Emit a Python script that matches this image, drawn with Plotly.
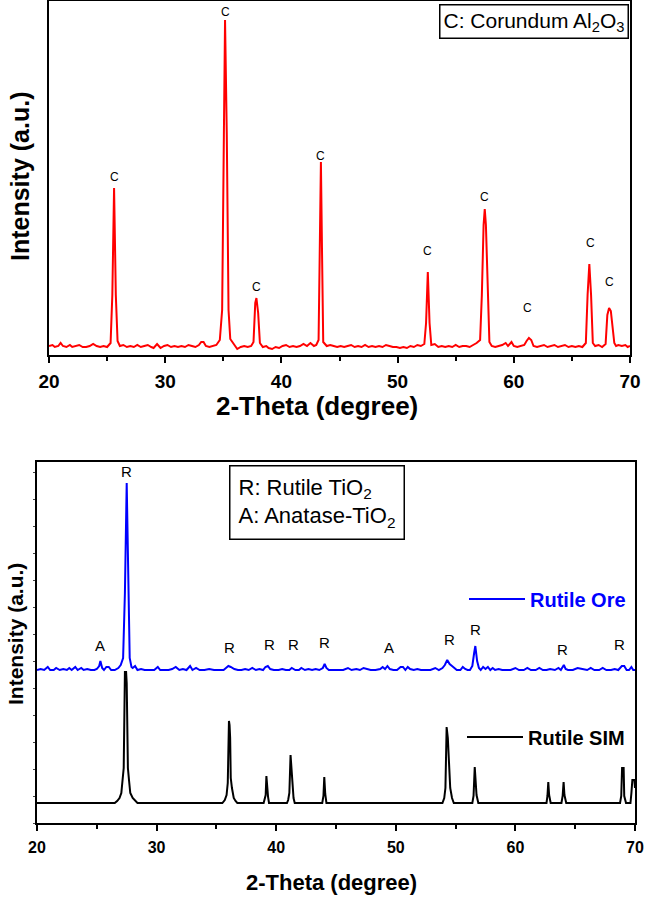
import plotly.graph_objects as go

W, H = 646, 897
OFF = 0  # page body margin is removed by the post script below

# ---------------- Top panel: Corundum Al2O3 (red) ----------------
corundum_x = [20.0, 20.3, 20.5, 20.8, 21.0, 21.2, 21.5, 21.8, 22.0, 22.3, 22.6, 22.9, 23.2, 23.5, 23.8, 24.1,
              24.4, 24.7, 25.0, 25.3, 25.45, 25.6, 25.75, 25.9, 26.1, 26.4, 26.7, 27.0, 27.3, 27.6, 27.9, 28.2,
              28.5, 28.8, 29.0, 29.3, 29.6, 29.9, 30.2, 30.5, 30.8, 31.1, 31.4, 31.7, 32.0, 32.3, 32.6, 32.9,
              33.1, 33.3, 33.5, 33.8, 34.1, 34.4, 34.7, 34.9, 35.05, 35.15, 35.3, 35.45, 35.6, 35.8, 36.0, 36.2,
              36.5, 36.8, 37.1, 37.4, 37.6, 37.75, 37.85, 38.0, 38.15, 38.4, 38.7, 38.9, 39.2, 39.5, 39.8, 40.1,
              40.4, 40.7, 41.0, 41.3, 41.6, 41.9, 42.2, 42.5, 42.8, 43.0, 43.2, 43.3, 43.4, 43.5, 43.6, 43.9,
              44.2, 44.5, 44.8, 45.1, 45.4, 45.7, 46.0, 46.3, 46.6, 46.9, 47.2, 47.5, 47.8, 48.1, 48.4, 48.7,
              49.0, 49.3, 49.6, 49.9, 50.2, 50.5, 50.8, 51.1, 51.4, 51.7, 52.0, 52.3, 52.45, 52.6, 52.75, 52.9,
              53.2, 53.5, 53.8, 54.1, 54.4, 54.7, 55.0, 55.3, 55.6, 55.9, 56.2, 56.5, 56.8, 57.1, 57.25, 57.4,
              57.5, 57.6, 57.75, 57.9, 58.1, 58.4, 58.7, 59.0, 59.3, 59.5, 59.8, 60.0, 60.3, 60.6, 60.9, 61.1,
              61.3, 61.5, 61.7, 62.0, 62.3, 62.6, 62.9, 63.2, 63.5, 63.8, 64.1, 64.4, 64.7, 65.0, 65.3, 65.6,
              65.9, 66.2, 66.35, 66.5, 66.65, 66.8, 67.0, 67.3, 67.6, 67.9, 68.05, 68.2, 68.35, 68.5, 68.65, 68.8,
              69.0, 69.3, 69.6, 69.8, 70.0]
corundum_y = [9, 10, 8, 9, 12, 9, 8, 10, 8, 9, 10, 8, 8, 9, 11, 9,
              8, 9, 8, 12, 60, 167, 60, 14, 9, 10, 8, 9, 8, 10, 8, 9,
              10, 8, 7, 11, 7, 9, 10, 8, 9, 8, 9, 8, 10, 9, 8, 10,
              13, 13, 9, 8, 9, 10, 15, 45, 220, 335, 220, 45, 16, 13, 9, 6,
              8, 9, 8, 9, 13, 52, 57, 42, 12, 8, 9, 7, 6, 8, 7, 9,
              10, 8, 9, 8, 9, 11, 9, 12, 9, 10, 15, 100, 193, 100, 13, 9,
              10, 9, 8, 9, 8, 9, 10, 8, 9, 8, 10, 8, 9, 8, 9, 8,
              10, 9, 8, 8, 7, 8, 7, 9, 8, 10, 9, 11, 32, 83, 32, 10,
              11, 8, 9, 8, 9, 8, 10, 8, 9, 9, 8, 10, 12, 15, 60, 130,
              146, 130, 60, 13, 9, 8, 9, 10, 12, 9, 13, 9, 8, 9, 10, 14,
              17, 15, 9, 8, 9, 10, 8, 9, 10, 8, 9, 10, 8, 9, 8, 9,
              8, 12, 60, 91, 60, 12, 9, 10, 8, 11, 40, 47, 44, 30, 12, 9,
              10, 9, 10, 8, 9]

corundum_lbl_x = [25.6, 35.15, 37.85, 43.4, 52.55, 57.52, 61.15, 66.6, 68.25]
corundum_lbl_y = [178, 343, 68, 199, 104, 158, 47, 112, 73]

# ---------------- Bottom panel: Rutile ore (blue) and simulated (black) ----------------
ore_x = [20.0, 20.3, 20.6, 20.9, 21.1, 21.4, 21.6, 21.9, 22.2, 22.5, 22.7, 22.9, 23.2, 23.4, 23.7, 23.9,
         24.2, 24.5, 24.8, 25.0, 25.2, 25.3, 25.45, 25.6, 25.8, 26.0, 26.2, 26.5, 26.8, 27.0, 27.2, 27.35,
         27.5, 27.65, 27.75, 27.9, 28.0, 28.2, 28.4, 28.7, 29.0, 29.4, 29.8, 30.1, 30.3, 30.6, 31.0, 31.3,
         31.6, 31.9, 32.2, 32.5, 32.8, 33.0, 33.3, 33.6, 34.0, 34.4, 34.8, 35.2, 35.6, 35.8, 36.0, 36.2,
         36.5, 36.8, 37.1, 37.4, 37.7, 38.0, 38.3, 38.6, 38.9, 39.1, 39.3, 39.5, 39.8, 40.2, 40.5, 40.8,
         41.1, 41.3, 41.6, 41.9, 42.1, 42.4, 42.7, 43.0, 43.3, 43.6, 43.9, 44.05, 44.2, 44.4, 44.8, 45.2,
         45.6, 46.0, 46.3, 46.7, 47.0, 47.3, 47.6, 47.9, 48.3, 48.7, 48.9, 49.1, 49.3, 49.5, 49.8, 50.1,
         50.4, 50.6, 50.8, 51.0, 51.2, 51.5, 51.8, 52.1, 52.5, 52.9, 53.3, 53.6, 53.9, 54.1, 54.3, 54.5,
         54.7, 54.9, 55.1, 55.4, 55.6, 55.8, 56.0, 56.2, 56.4, 56.55, 56.65, 56.8, 56.95, 57.1, 57.3, 57.5,
         57.7, 57.9, 58.1, 58.3, 58.6, 58.9, 59.3, 59.6, 60.0, 60.3, 60.7, 61.0, 61.3, 61.7, 62.0, 62.3,
         62.6, 62.9, 63.3, 63.6, 63.8, 64.05, 64.2, 64.4, 64.8, 65.2, 65.6, 66.0, 66.3, 66.6, 67.0, 67.3,
         67.6, 68.0, 68.3, 68.6, 68.9, 69.1, 69.3, 69.5, 69.7, 69.85, 70.0]
ore_y = [153, 154, 153, 156, 153, 153, 155, 153, 154, 153, 155, 153, 156, 153, 155, 153,
         154, 153, 153, 154, 157, 162, 155, 153, 156, 156, 153, 153, 155, 158, 165, 230,
         340, 230, 165, 156, 155, 157, 153, 154, 153, 153, 153, 156, 153, 153, 153, 154,
         156, 153, 154, 153, 157, 153, 155, 153, 153, 154, 153, 153, 153, 155, 157, 156,
         154, 153, 153, 154, 153, 155, 153, 154, 153, 156, 157, 154, 153, 153, 154, 153,
         153, 155, 153, 153, 155, 153, 154, 153, 154, 153, 155, 159, 155, 153, 153, 153,
         153, 155, 153, 154, 153, 155, 154, 153, 153, 154, 156, 154, 157, 154, 153, 153,
         156, 156, 153, 156, 154, 153, 154, 153, 153, 153, 155, 153, 155, 158, 163, 159,
         157, 155, 153, 153, 156, 154, 153, 153, 157, 170, 177, 162, 155, 153, 156, 154,
         156, 153, 155, 153, 154, 153, 153, 153, 155, 153, 153, 155, 153, 153, 155, 153,
         153, 154, 153, 155, 153, 158, 154, 153, 153, 155, 154, 153, 155, 153, 153, 155,
         153, 153, 154, 153, 157, 157, 153, 153, 156, 153, 153]

sim_x = [20.0, 26.5, 26.7, 26.9, 27.05, 27.15, 27.25, 27.35, 27.45, 27.5, 27.6, 27.7, 27.8, 28.0, 28.2, 28.4,
         35.5, 35.7, 35.85, 35.95, 36.05, 36.1, 36.15, 36.2, 36.3, 36.45, 36.6, 36.75,
         38.95, 39.05, 39.12, 39.18, 39.25, 39.32, 39.4,
         40.9, 41.0, 41.1, 41.2, 41.28, 41.35, 41.45, 41.55,
         43.85, 43.95, 44.02, 44.1, 44.2,
         53.9, 54.05, 54.15, 54.25, 54.35, 54.45, 54.55, 54.7, 54.85,
         56.4, 56.5, 56.6, 56.68, 56.75, 56.9,
         62.6, 62.68, 62.75, 62.82, 62.95,
         63.85, 63.95, 64.03, 64.1, 64.25,
         68.75, 68.85, 68.92, 69.05, 69.1, 69.25,
         69.62, 69.7, 69.78, 69.95, 70.0]
sim_y = [20, 20, 22, 25, 30, 45, 55, 151, 151, 140, 55, 42, 30, 25, 22, 20,
         20, 23, 28, 40, 102, 98, 85, 45, 35, 25, 22, 20,
         20, 26, 28, 47, 30, 26, 20,
         20, 23, 30, 68, 55, 35, 25, 20,
         20, 27, 46, 29, 20,
         20, 25, 35, 96, 85, 60, 35, 25, 20,
         20, 27, 56, 40, 28, 20,
         20, 27, 41, 28, 20,
         20, 27, 41, 28, 20,
         20, 27, 55, 55, 27, 20,
         20, 30, 43, 43, 35]

rutile_lbl_text = ["R", "A", "R", "R", "R", "R", "A", "R", "R", "R", "R"]
rutile_lbl_x = [27.5, 25.3, 36.1, 39.4, 41.45, 44.0, 49.4, 54.45, 56.7, 63.95, 68.7]
rutile_lbl_y = [352, 178, 176, 179, 179, 181, 176, 184, 194, 174, 179]

x_ticks = [20, 30, 40, 50, 60, 70]
x_minor = [25, 35, 45, 55, 65]

# ---------------- Geometry (screen pixels of the reference) ----------------
top_px = dict(l=49, r=630, t=1, b=355)
bot_px = dict(l=37, r=635, t=462, b=823)


def px(xp):
    return (xp - OFF) / W


def py(yp):
    return 1 - (yp - OFF) / H


def xd(p):
    return [px(p["l"]), px(p["r"])]


def yd(p):
    return [py(p["b"]), py(p["t"])]


FONT = "Liberation Sans, Arial, sans-serif"

fig = go.Figure()
fig.add_trace(go.Scatter(x=corundum_x, y=corundum_y, mode="lines", line=dict(color="#ff0000", width=2),
                         showlegend=False, xaxis="x", yaxis="y"))
fig.add_trace(go.Scatter(x=ore_x, y=ore_y, mode="lines", line=dict(color="#0000ff", width=2),
                         name="Rutile Ore", legend="legend", xaxis="x2", yaxis="y2"))
fig.add_trace(go.Scatter(x=sim_x, y=sim_y, mode="lines", line=dict(color="#000000", width=2),
                         name="Rutile SIM", legend="legend2", xaxis="x2", yaxis="y2"))

axis_common = dict(showline=True, linecolor="black", linewidth=2, mirror=True, showgrid=False,
                   zeroline=False, automargin=False)

fig.update_layout(
    template="none",
    width=W, height=H, margin=dict(l=0, r=0, t=0, b=0, autoexpand=False),
    paper_bgcolor="white", plot_bgcolor="white",
    font=dict(family=FONT, color="black"),
    xaxis=dict(domain=xd(top_px), range=[20, 70], tickvals=x_ticks, ticks="outside", ticklen=6,
               tickwidth=2, tickcolor="black",
               minor=dict(tickvals=x_minor, ticks="outside", ticklen=4, tickwidth=1.5, tickcolor="black"),
               tickfont=dict(size=19, family="Liberation Sans, Arial", weight="bold"),
               ticklabelstandoff=2, anchor="y", **axis_common),
    yaxis=dict(domain=yd(top_px), range=[0, 355 - top_px["t"]], showticklabels=False, ticks="",
               anchor="x", **axis_common),
    xaxis2=dict(domain=xd(bot_px), range=[20, 70], tickvals=x_ticks, ticks="outside", ticklen=6,
                tickwidth=2, tickcolor="black",
                minor=dict(tickvals=x_minor, ticks="outside", ticklen=4, tickwidth=1.5, tickcolor="black"),
                tickfont=dict(size=16, family="Liberation Sans, Arial", weight="bold"),
                ticklabelstandoff=3, anchor="y2", **axis_common),
    yaxis2=dict(domain=yd(bot_px), range=[0, 361], showticklabels=False, ticks="outside", ticklen=2,
                tickwidth=1, tickcolor="#444", dtick=27, anchor="x2", **axis_common),
    legend=dict(x=px(464), y=py(599), xanchor="left", yanchor="middle", bgcolor="rgba(0,0,0,0)",
                font=dict(size=20, color="#0000ff", family=FONT, weight="bold"), itemwidth=56,
                borderwidth=0),
    legend2=dict(x=px(462), y=py(737), xanchor="left", yanchor="middle", bgcolor="rgba(0,0,0,0)",
                 font=dict(size=20, color="#000000", family=FONT, weight="bold"), itemwidth=56,
                 borderwidth=0),
)

ann = []
for xv, yv in zip(corundum_lbl_x, corundum_lbl_y):
    ann.append(dict(x=xv, y=yv, xref="x", yref="y", text="C", showarrow=False,
                    font=dict(size=12, family=FONT, color="black"), xanchor="center", yanchor="middle"))
for t, xv, yv in zip(rutile_lbl_text, rutile_lbl_x, rutile_lbl_y):
    ann.append(dict(x=xv, y=yv, xref="x2", yref="y2", text=t, showarrow=False,
                    font=dict(size=15, family=FONT, color="black"), xanchor="center", yanchor="middle"))

# Boxed keys
ann.append(dict(x=px(629), y=py(4), xref="paper", yref="paper", xanchor="right", yanchor="top",
                text="C: Corundum Al<sub>2</sub>O<sub>3</sub>", showarrow=False, align="left",
                font=dict(size=21, family=FONT, color="black"), bordercolor="black", borderwidth=1.5,
                borderpad=3, bgcolor="white"))
ann.append(dict(x=px(229), y=py(465), xref="paper", yref="paper", xanchor="left", yanchor="top",
                text="R: Rutile TiO<sub>2</sub><br>A: Anatase-TiO<sub>2</sub>", showarrow=False,
                align="left", font=dict(size=22, family=FONT, color="black"), bordercolor="black",
                borderwidth=1.5, borderpad=8, bgcolor="white"))

# Axis titles
ann.append(dict(x=px(317), y=py(406), xref="paper", yref="paper", text="2-Theta (degree)",
                showarrow=False, font=dict(size=26, family=FONT, weight="bold"), xanchor="center",
                yanchor="middle"))
ann.append(dict(x=px(20), y=py(177), xref="paper", yref="paper", text="Intensity (a.u.)",
                showarrow=False, textangle=-90, font=dict(size=25, family=FONT, weight="bold"),
                xanchor="center", yanchor="middle"))
ann.append(dict(x=px(331), y=py(882), xref="paper", yref="paper", text="2-Theta (degree)",
                showarrow=False, font=dict(size=22, family=FONT, weight="bold"), xanchor="center",
                yanchor="middle"))
ann.append(dict(x=px(15), y=py(634), xref="paper", yref="paper", text="Intensity (a.u.)",
                showarrow=False, textangle=-90, font=dict(size=21, family=FONT, weight="bold"),
                xanchor="center", yanchor="middle"))

fig.update_layout(annotations=ann)
fig.write_html("out.html", config={"displayModeBar": False},
               post_script="document.body.style.margin='0';document.body.style.overflow='hidden';")
